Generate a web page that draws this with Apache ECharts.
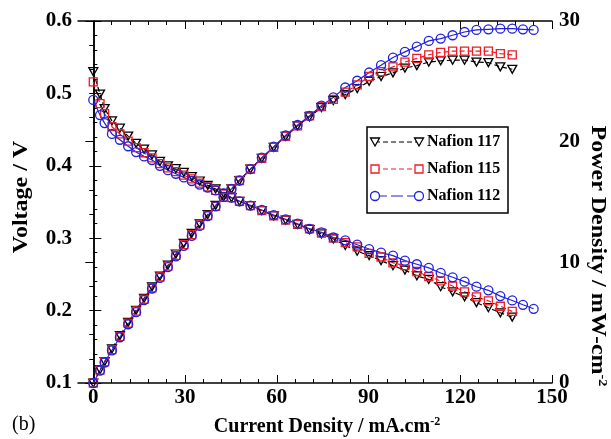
<!DOCTYPE html>
<html>
<head>
<meta charset="utf-8">
<script src="https://cdn.jsdelivr.net/npm/echarts@6/dist/echarts.min.js"></script>
<style>
    html, body { margin: 0; padding: 0; background: #fff; }
    #chart { width: 611px; height: 439px; }
</style>
</head>
<body>
<div id="chart"></div>
<script>
    // current density, mA/cm2 (shared by the three membranes)
    var currentDensity = [
        0, 2.2, 3.7, 6.1, 8.7, 11.4, 14.0, 16.6, 19.2, 21.8,
        24.4, 27.0, 29.6, 32.2, 34.8, 37.4, 40.0, 42.6, 45.2, 47.8,
        51.4, 55.1, 59.0, 62.9, 66.8, 70.7, 74.6, 78.5, 82.4, 86.3,
        90.2, 94.1, 98.0, 101.9, 105.8, 109.7, 113.6, 117.5, 121.4, 125.3,
        129.2, 133.1, 137.0, 140.5, 144.0
    ];

    // cell voltage, V
    var voltage117 = [
        0.530, 0.499, 0.479, 0.462, 0.452, 0.441, 0.431, 0.423, 0.415, 0.406,
        0.400, 0.396, 0.391, 0.385, 0.379, 0.373, 0.368, 0.362, 0.356, 0.351,
        0.345, 0.338, 0.331, 0.325, 0.319, 0.312, 0.306, 0.299, 0.290, 0.282,
        0.276, 0.269, 0.262, 0.256, 0.248, 0.243, 0.233, 0.226, 0.219, 0.211,
        0.204, 0.197, 0.191
    ];
    var voltage115 = [
        0.516, 0.486, 0.472, 0.454, 0.444, 0.434, 0.425, 0.418, 0.411, 0.403,
        0.397, 0.392, 0.387, 0.382, 0.376, 0.371, 0.366, 0.361, 0.356, 0.351,
        0.345, 0.338, 0.331, 0.325, 0.319, 0.313, 0.307, 0.300, 0.294, 0.288,
        0.279, 0.274, 0.266, 0.262, 0.254, 0.247, 0.241, 0.234, 0.226, 0.219,
        0.2135, 0.206, 0.199
    ];
    var voltage112 = [
        0.491, 0.470, 0.459, 0.444, 0.436, 0.427, 0.419, 0.413, 0.408, 0.400,
        0.394, 0.389, 0.384, 0.379, 0.374, 0.370, 0.366, 0.362, 0.356, 0.351,
        0.345, 0.339, 0.332, 0.326, 0.320, 0.313, 0.308, 0.301, 0.297, 0.291,
        0.285, 0.280, 0.276, 0.269, 0.264, 0.259, 0.252, 0.246, 0.240, 0.233,
        0.228, 0.220, 0.214, 0.208, 0.2025
    ];

    // power density, mW/cm2
    var power117 = [
        0, 1.10, 1.77, 2.82, 3.93, 5.03, 6.03, 7.02, 7.97, 8.85,
        9.76, 10.69, 11.57, 12.40, 13.19, 13.95, 14.72, 15.42, 16.09, 16.78,
        17.73, 18.62, 19.53, 20.44, 21.31, 22.06, 22.83, 23.4, 23.9, 24.4,
        25.0, 25.4, 25.7, 26.1, 26.3, 26.6, 26.7, 26.75, 26.75, 26.6,
        26.55, 26.2, 26.0
    ];
    var power115 = [
        0, 1.07, 1.75, 2.77, 3.86, 4.95, 5.95, 6.94, 7.89, 8.79,
        9.69, 10.58, 11.46, 12.30, 13.08, 13.88, 14.64, 15.38, 16.09, 16.78,
        17.73, 18.62, 19.53, 20.44, 21.31, 22.13, 22.90, 23.5, 24.1, 24.7,
        25.4, 25.8, 26.2, 26.6, 26.9, 27.2, 27.4, 27.5, 27.5, 27.5,
        27.5, 27.3, 27.2
    ];
    var power112 = [
        0, 1.03, 1.70, 2.71, 3.79, 4.87, 5.87, 6.86, 7.83, 8.72,
        9.61, 10.50, 11.37, 12.20, 13.02, 13.84, 14.64, 15.42, 16.09, 16.78,
        17.73, 18.68, 19.59, 20.51, 21.38, 22.13, 22.98, 23.67, 24.49, 25.05,
        25.73, 26.34, 26.97, 27.44, 27.88, 28.35, 28.54, 28.82, 29.09, 29.26,
        29.31, 29.36, 29.36, 29.31, 29.26
    ];

    var xMajorTicks = [0, 30, 60, 90, 120, 150];
    var xMinorTicks = [6, 12, 18, 24, 36, 42, 48, 54, 66, 72, 78, 84, 96, 102, 108, 114, 126, 132, 138, 144];
    var legendNames = ['Nafion 117', 'Nafion 115', 'Nafion 112'];

    var FONT = 'Liberation Serif';
    var BLACK = '#000000';
    var RED = '#ee1c25';
    var BLUE = '#2020e0';

    function pairs(ys) {
        return ys.map(function (y, i) { return [currentDensity[i], y]; });
    }

    function makeSeries(name, ys, yIndex, color, symbol, dashed) {
        return {
            name: name,
            type: 'line',
            yAxisIndex: yIndex,
            data: pairs(ys),
            symbol: symbol,
            symbolSize: symbol === 'triangle' ? [9, 8] : (symbol === 'rect' ? 8 : 9),
            symbolRotate: symbol === 'triangle' ? 180 : 0,
            showAllSymbol: true,
            lineStyle: { color: color, width: 1.2, type: dashed ? [5, 3] : 'solid' },
            itemStyle: { color: 'rgba(0,0,0,0)', borderColor: color, borderWidth: 1.3 },
            emphasis: { disabled: true },
            silent: true
        };
    }

    var tickLabelStyle = {
        fontFamily: FONT, fontWeight: 'bold', fontSize: 21, color: BLACK
    };

    function xAxisDef(position, values, len, showLine, labels) {
        return {
            type: 'value', position: position, min: -5, max: 150,
            axisLine: { show: showLine, onZero: false, lineStyle: { color: BLACK, width: 1.5 } },
            axisTick: { show: true, inside: true, length: len, customValues: values, lineStyle: { color: BLACK, width: 1 } },
            axisLabel: Object.assign({ show: labels, customValues: values, margin: 4 }, tickLabelStyle),
            splitLine: { show: false }
        };
    }

    var chart = echarts.init(document.getElementById('chart'));

    var legendY = [142, 169, 196];
    var legendColors = [BLACK, RED, BLUE];
    var legendGraphics = [{
        type: 'rect', shape: { x: 367, y: 127, width: 141, height: 86 },
        style: { fill: '#fff', stroke: BLACK, lineWidth: 1.5 }, z: 10
    }];
    legendNames.forEach(function (n, i) {
        var y = legendY[i], c = legendColors[i];
        legendGraphics.push({
            type: 'line', shape: { x1: 375, y1: y, x2: 419, y2: y },
            style: { stroke: c, lineWidth: 1.2, lineDash: i < 2 ? [5, 3] : [12, 4] }, z: 11
        });
        [375, 419].forEach(function (x) {
            var shape;
            if (i === 0) {
                shape = { type: 'polygon', shape: { points: [[x - 4.5, y - 4], [x + 4.5, y - 4], [x, y + 4]] } };
            } else if (i === 1) {
                shape = { type: 'rect', shape: { x: x - 4, y: y - 4, width: 8, height: 8 } };
            } else {
                shape = { type: 'circle', shape: { cx: x, cy: y, r: 4.5 } };
            }
            shape.style = { fill: '#fff', stroke: c, lineWidth: 1.3 };
            shape.z = 12;
            legendGraphics.push(shape);
        });
        legendGraphics.push({
            type: 'text', x: 427, y: y, z: 12,
            style: { text: n, fontFamily: FONT, fontWeight: 'bold', fontSize: 16, fill: BLACK, verticalAlign: 'middle' }
        });
    });

    var titleGraphics = [
        {
            type: 'text', x: 22, y: 197, rotation: Math.PI / 2, scaleX: 1.2,
            style: { text: 'Voltage / V', fontFamily: FONT, fontWeight: 'bold', fontSize: 20, fill: BLACK, align: 'center', verticalAlign: 'middle' }
        },
        {
            type: 'text', x: 597, y: 256, rotation: -Math.PI / 2, scaleX: 1.2,
            style: {
                text: '{a|Power Density / mW-cm}{s|-2}', align: 'center', verticalAlign: 'middle',
                rich: {
                    a: { fontFamily: FONT, fontWeight: 'bold', fontSize: 20, fill: BLACK, lineHeight: 22 },
                    s: { fontFamily: FONT, fontWeight: 'bold', fontSize: 12, fill: BLACK, verticalAlign: 'top', lineHeight: 22 }
                }
            }
        },
        {
            type: 'text', x: 327, y: 427,
            style: {
                text: '{a|Current Density / mA.cm}{s|-2}', align: 'center', verticalAlign: 'middle',
                rich: {
                    a: { fontFamily: FONT, fontWeight: 'bold', fontSize: 20, fill: BLACK, lineHeight: 22 },
                    s: { fontFamily: FONT, fontWeight: 'bold', fontSize: 12, fill: BLACK, verticalAlign: 'top', lineHeight: 22 }
                }
            }
        },
        {
            type: 'text', x: 12, y: 425,
            style: { text: '(b)', fontFamily: FONT, fontSize: 20, fill: BLACK, verticalAlign: 'middle' }
        }
    ];

    var option = {
        animation: false,
        backgroundColor: '#fff',
        grid: { left: 78, right: 59, top: 21, bottom: 56, containLabel: false },
        xAxis: [
            xAxisDef('bottom', xMajorTicks, 8, true, true),
            xAxisDef('bottom', xMinorTicks, 4, false, false),
            xAxisDef('top', xMajorTicks, 8, true, false),
            xAxisDef('top', xMinorTicks, 4, false, false)
        ],
        yAxis: [
            {
                type: 'value', position: 'left', min: 0.1, max: 0.6, interval: 0.1,
                axisLine: { show: true, lineStyle: { color: BLACK, width: 1.5 } },
                axisTick: { inside: true, length: 8, lineStyle: { color: BLACK, width: 1 } },
                minorTick: { show: true, splitNumber: 5, length: 4, lineStyle: { color: BLACK, width: 1 } },
                axisLabel: Object.assign({ margin: 6, formatter: function (v) { return v.toFixed(1); } }, tickLabelStyle),
                splitLine: { show: false }
            },
            {
                type: 'value', position: 'right', min: 0, max: 30, interval: 10,
                axisLine: { show: true, lineStyle: { color: BLACK, width: 1.5 } },
                axisTick: { inside: true, length: 8, lineStyle: { color: BLACK, width: 1 } },
                minorTick: { show: true, splitNumber: 5, length: 4, lineStyle: { color: BLACK, width: 1 } },
                axisLabel: Object.assign({ margin: 7 }, tickLabelStyle),
                splitLine: { show: false }
            }
        ],
        series: [
            makeSeries(legendNames[0], voltage117, 0, BLACK, 'triangle', true),
            makeSeries(legendNames[1], voltage115, 0, RED, 'rect', true),
            makeSeries(legendNames[2], voltage112, 0, BLUE, 'circle', false),
            makeSeries(legendNames[0], power117, 1, BLACK, 'triangle', true),
            makeSeries(legendNames[1], power115, 1, RED, 'rect', true),
            makeSeries(legendNames[2], power112, 1, BLUE, 'circle', false)
        ],
        graphic: legendGraphics.concat(titleGraphics)
    };

    chart.setOption(option);
</script>
</body>
</html>
